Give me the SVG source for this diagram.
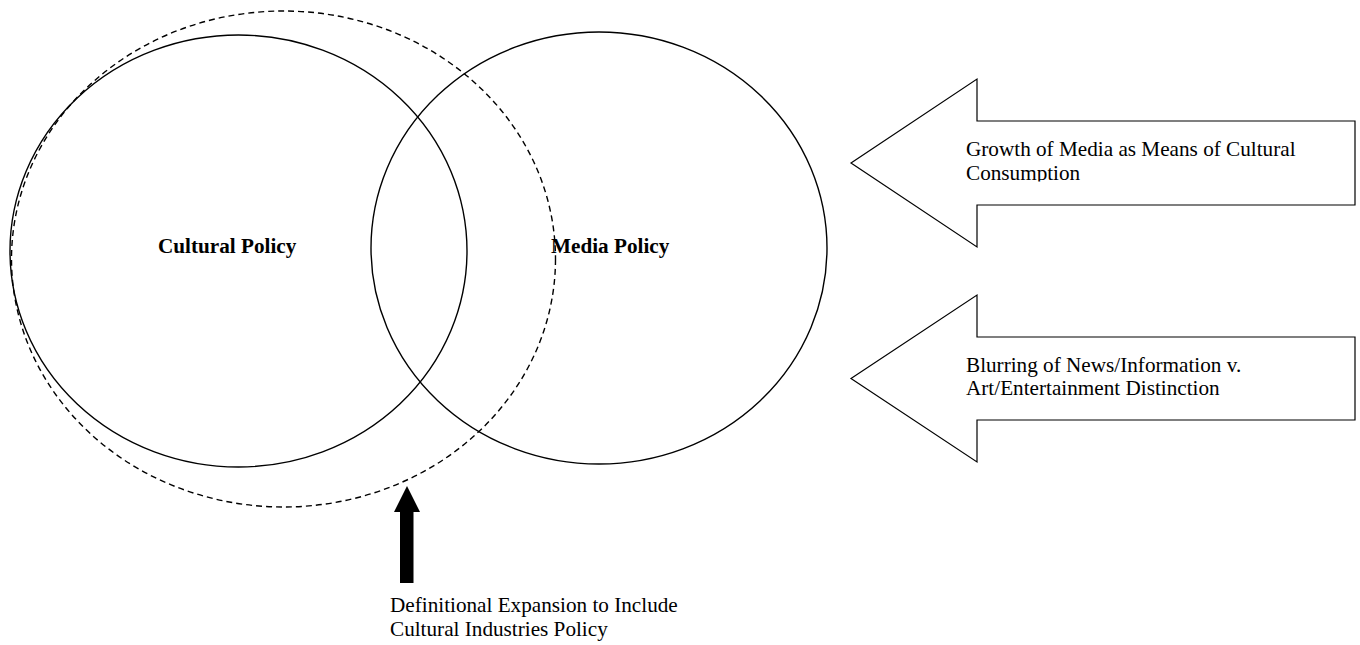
<svg xmlns="http://www.w3.org/2000/svg" width="1360" height="645" viewBox="0 0 1360 645">
<style>
.t{font-family:"Liberation Serif","Times New Roman",serif;font-size:21.2px;fill:#000}
.b{font-weight:bold}
.e{fill:none;stroke:#000;stroke-width:1.4}
.d{fill:none;stroke:#000;stroke-width:1.4;stroke-dasharray:6 4}
.a{fill:#fff;stroke:#000;stroke-width:1.2}
</style>
<defs>
<clipPath id="c1"><rect x="960" y="120" width="390" height="61.5"/></clipPath>
</defs>
<rect width="1360" height="645" fill="#fff"/>
<g id="connectors">
<polygon id="growth-arrow" class="a" points="851,163 977,79 977,121 1355,121 1355,205 977,205 977,247"/>
<polygon id="blurring-arrow" class="a" points="851,378.5 977,295 977,337 1355,337 1355,420 977,420 977,462"/>
<polygon id="expansion-arrow" fill="#000" points="407,486 420,512 413.5,512 413.5,583 400,583 400,512 394,512"/>
</g>
<g id="cultural-policy">
<ellipse class="e" cx="238.5" cy="251" rx="228.5" ry="216"/>
<text class="t b" x="158" y="253">Cultural Policy</text>
</g>
<g id="expanded-cultural-policy">
<ellipse class="d" cx="283.5" cy="259" rx="272" ry="248"/>
</g>
<g id="media-policy">
<ellipse class="e" cx="599" cy="248" rx="228" ry="216"/>
<text class="t b" x="551" y="253">Media Policy</text>
</g>
<g id="growth-label" clip-path="url(#c1)">
<text class="t" x="966" y="156">Growth of Media as Means of Cultural</text>
<text class="t" x="966" y="179.5">Consumption</text>
</g>
<g id="blurring-label">
<text class="t" x="966" y="372">Blurring of News/Information v.</text>
<text class="t" x="966" y="395">Art/Entertainment Distinction</text>
</g>
<g id="expansion-label">
<text class="t" x="390" y="612">Definitional Expansion to Include</text>
<text class="t" x="390" y="636">Cultural Industries Policy</text>
</g>
</svg>
